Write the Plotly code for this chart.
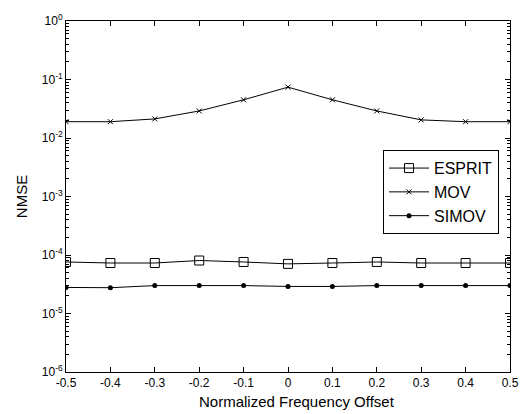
import plotly.graph_objects as go
import numpy as np

x = [-0.5, -0.4, -0.3, -0.2, -0.1, 0.0, 0.1, 0.2, 0.3, 0.4, 0.5]
esprit = [7.6e-5, 7.3e-5, 7.3e-5, 8.05e-5, 7.6e-5, 7.05e-5, 7.3e-5, 7.6e-5, 7.3e-5, 7.3e-5, 7.3e-5]
mov = [0.019, 0.019, 0.0212, 0.029, 0.045, 0.074, 0.045, 0.029, 0.0204, 0.019, 0.019]
simov = [2.79e-5, 2.76e-5, 3.0e-5, 3.0e-5, 3.0e-5, 2.9e-5, 2.9e-5, 3.0e-5, 3.0e-5, 3.0e-5, 3.0e-5]

x_ticks = [-0.5, -0.4, -0.3, -0.2, -0.1, 0, 0.1, 0.2, 0.3, 0.4, 0.5]
x_ticktext = ["-0.5", "-0.4", "-0.3", "-0.2", "-0.1", "0", "0.1", "0.2", "0.3", "0.4", "0.5"]
y_exps = [-6, -5, -4, -3, -2, -1, 0]
y_ticks = [10.0 ** e for e in y_exps]
y_ticktext = ["10<sup>%d</sup>" % e for e in y_exps]
y_minor = [m * 10.0 ** e for e in y_exps[:-1] for m in range(2, 10)]

fig = go.Figure()
fig.add_trace(go.Scatter(x=x, y=esprit, name="ESPRIT", mode="lines+markers", legendgroup="a",
                         line=dict(color="black", width=1),
                         marker=dict(symbol="square-open", size=9, color="black", line=dict(width=1))))
fig.add_trace(go.Scatter(x=x, y=mov, name="MOV", mode="lines+markers", legendgroup="b",
                         line=dict(color="black", width=1),
                         marker=dict(symbol="x-thin", size=5, color="black", line=dict(width=1, color="black"))))
fig.add_trace(go.Scatter(x=x, y=simov, name="SIMOV", mode="lines+markers", legendgroup="c",
                         line=dict(color="black", width=1),
                         marker=dict(symbol="circle", size=5, color="black")))
fig.add_trace(go.Scatter(x=[x[0]], y=[y_ticks[0]], yaxis="y2", mode="markers",
                         marker=dict(opacity=0), showlegend=False, hoverinfo="skip"))

font = "Liberation Sans, Arial, sans-serif"
fig.update_layout(
    width=531, height=414,
    margin=dict(l=66, r=13, t=16, b=42),
    paper_bgcolor="white", plot_bgcolor="white",
    font=dict(family=font, size=12, color="black"),
    showlegend=True,
    legend=dict(x=0.714, y=0.632, xanchor="left", yanchor="top",
                bordercolor="black", borderwidth=1, bgcolor="white",
                font=dict(size=16, family=font), tracegroupgap=0,
                itemwidth=40),
    xaxis=dict(range=[-0.5, 0.5], tickmode="array", tickvals=x_ticks, ticktext=x_ticktext,
               ticks="inside", ticklen=5, tickwidth=1, tickcolor="black", showline=True, linecolor="black",
               linewidth=1, mirror="ticks", showgrid=False, zeroline=False,
               tickfont=dict(size=12)),
    yaxis=dict(type="log", range=[-6, 0], tickmode="array", tickvals=y_ticks, ticktext=y_ticktext,
               ticks="inside", ticklen=5, tickwidth=1, tickcolor="black", showline=True, linecolor="black",
               linewidth=1, mirror="ticks", showgrid=False, zeroline=False,
               title=dict(text="NMSE", font=dict(size=15), standoff=10),
               tickfont=dict(size=12)),
    yaxis2=dict(type="log", range=[-6, 0], overlaying="y", side="left", tickmode="array",
                tickvals=y_minor, showticklabels=False, ticks="inside", ticklen=3, tickwidth=1,
                tickcolor="black", showline=False, mirror="ticks", showgrid=False,
                zeroline=False),
    annotations=[dict(text="Normalized Frequency Offset", xref="paper", yref="paper",
                      x=0.5, y=0, xanchor="center", yanchor="top", xshift=9, yshift=-19,
                      showarrow=False, font=dict(size=15, family=font))],
)
fig.write_html("out.html")
